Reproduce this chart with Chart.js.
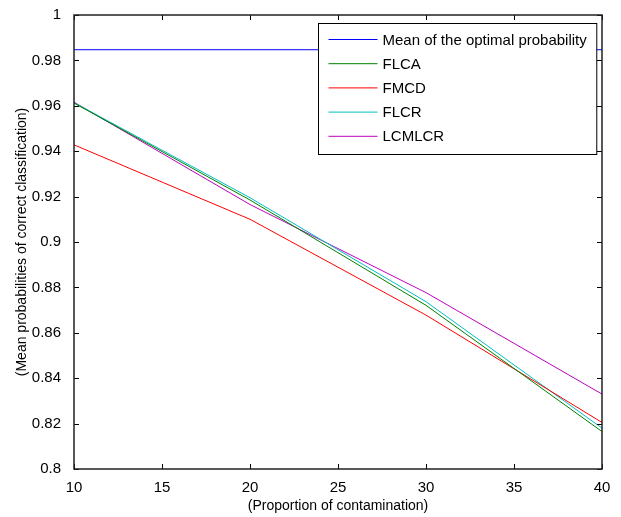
<!DOCTYPE html>
<html>
<head>
<meta charset="utf-8">
<script src="https://cdn.jsdelivr.net/npm/chart.js@4/dist/chart.umd.min.js"></script>
<style>
  html, body { margin: 0; padding: 0; background: #fff; }
  #wrap { width: 621px; height: 517px; }
</style>
</head>
<body>
<div id="wrap"><canvas id="graphe"></canvas></div>
<script>
// Données
const contamination = [10, 20, 30, 40];
const optimal = [0.9847, 0.9847, 0.9847, 0.9847];
const flca = [0.9612, 0.9185, 0.8721, 0.8165];
const fmcd = [0.9428, 0.9100, 0.8678, 0.8205];
const flcr = [0.9614, 0.9195, 0.8737, 0.8180];
const lcmlcr = [0.9616, 0.9165, 0.8777, 0.8330];
const seriesNames = ["Mean of the optimal probability", "FLCA", "FMCD", "FLCR", "LCMLCR"];
const seriesColors = ["#0000ff", "#008000", "#ff0000", "#00bfbf", "#bf00bf"];

const fontFamily = '"Liberation Sans", Arial, sans-serif';
const fontSize = 15;

function toPoints(values) {
    return values.map((v, i) => ({ x: contamination[i], y: v }));
}

// cadre + graduations vers l'intérieur (style matlab)
const boxPlugin = {
    id: "box",
    afterDraw(chart) {
        const { ctx, chartArea: a, scales: { x, y } } = chart;
        ctx.save();
        ctx.strokeStyle = "#000";
        ctx.lineWidth = 1;
        ctx.beginPath();
        x.ticks.forEach(t => {
            const px = Math.round(x.getPixelForValue(t.value)) + 0.5;
            ctx.moveTo(px, a.bottom); ctx.lineTo(px, a.bottom - 5);
            ctx.moveTo(px, a.top); ctx.lineTo(px, a.top + 5);
        });
        y.ticks.forEach(t => {
            const py = Math.round(y.getPixelForValue(t.value)) + 0.5;
            ctx.moveTo(a.left, py); ctx.lineTo(a.left + 5, py);
            ctx.moveTo(a.right, py); ctx.lineTo(a.right - 5, py);
        });
        ctx.stroke();
        ctx.lineWidth = 1.5;
        ctx.strokeStyle = "#222";
        ctx.strokeRect(a.left, a.top, a.right - a.left, a.bottom - a.top);

        // légende
        ctx.font = fontSize + "px " + fontFamily;
        let textW = 0;
        chart.data.datasets.forEach(d => { textW = Math.max(textW, ctx.measureText(d.label).width); });
        const rowH = 24.2;
        const boxW = textW + 74;
        const boxH = rowH * chart.data.datasets.length + 10;
        const bx = Math.round(a.right - 6 - boxW) + 0.5;
        const by = Math.round(a.top + 8) + 0.5;
        ctx.fillStyle = "#fff";
        ctx.fillRect(bx, by, boxW, boxH);
        ctx.lineWidth = 1;
        ctx.strokeStyle = "#000";
        ctx.strokeRect(bx, by, boxW, boxH);
        ctx.textBaseline = "middle";
        chart.data.datasets.forEach((d, i) => {
            const ry = by + 16 + i * rowH;
            ctx.strokeStyle = d.borderColor;
            ctx.beginPath();
            ctx.moveTo(bx + 10, ry); ctx.lineTo(bx + 59, ry);
            ctx.stroke();
            ctx.fillStyle = "#000";
            ctx.fillText(d.label, bx + 64, ry + 1);
        });
        ctx.restore();
    }
};

const allSeries = [optimal, flca, fmcd, flcr, lcmlcr];

const ctx = document.getElementById("graphe").getContext("2d");
const chart = new Chart(ctx, {
    type: "line",
    data: {
        datasets: allSeries.map((s, i) => ({
            label: seriesNames[i],
            data: toPoints(s),
            borderColor: seriesColors[i],
            backgroundColor: seriesColors[i],
            borderWidth: 1,
            pointRadius: 0,
            tension: 0,
            fill: false
        }))
    },
    options: {
        responsive: true,
        maintainAspectRatio: false,
        animation: false,
        layout: { padding: { top: 15, right: 19, left: 0, bottom: 0 } },
        plugins: {
            legend: { display: false },
            tooltip: { enabled: false }
        },
        scales: {
            x: {
                type: "linear",
                min: 10,
                max: 40,
                ticks: { stepSize: 5, color: "#000", padding: 2, maxRotation: 0, font: { size: fontSize, family: fontFamily } },
                grid: { display: false },
                border: { display: false },
                title: { display: true, text: "(Proportion of contamination)", color: "#000", padding: { top: 0, bottom: 2 }, font: { size: 14, family: fontFamily } },
                afterFit: scale => { scale.height = 48; }
            },
            y: {
                min: 0.8,
                max: 1,
                ticks: {
                    stepSize: 0.02, color: "#000", padding: 5, font: { size: fontSize, family: fontFamily },
                    callback: v => String(+v.toFixed(2))
                },
                grid: { display: false },
                border: { display: false },
                title: { display: true, text: "(Mean probabilities of correct classification)", color: "#000", padding: { top: 14, bottom: 0 }, font: { size: 14, family: fontFamily } },
                afterFit: scale => { scale.width = 74; }
            }
        }
    },
    plugins: [boxPlugin]
});
</script>
</body>
</html>
